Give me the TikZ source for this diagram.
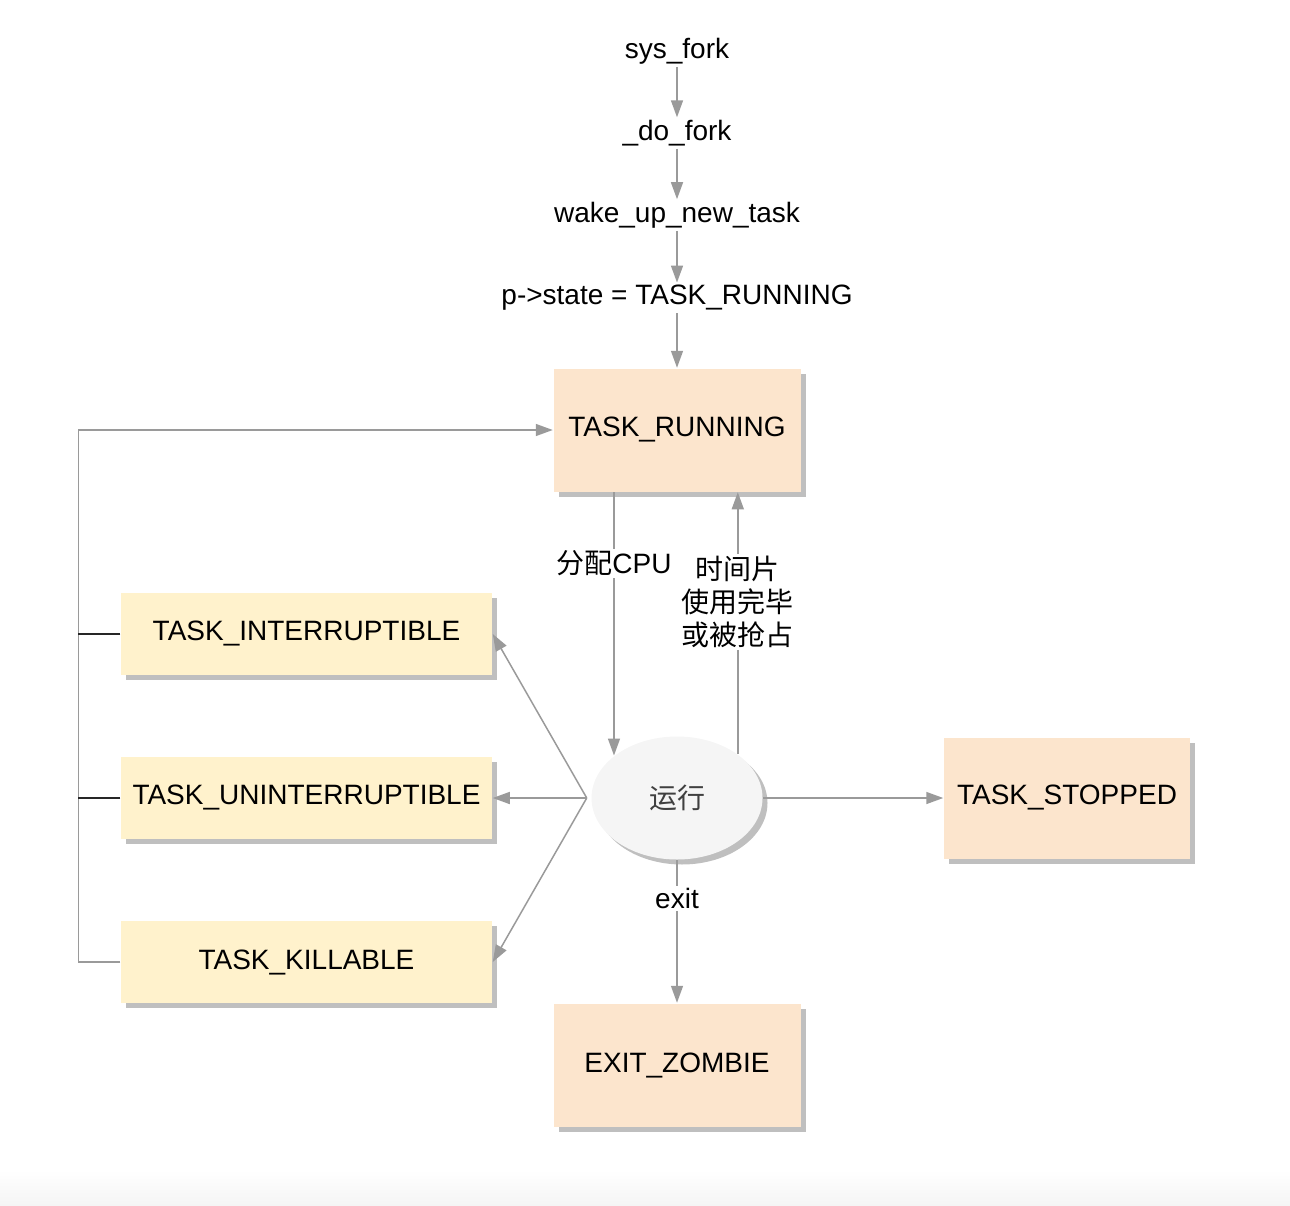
\documentclass[tikz,border=0pt]{standalone}
\usepackage{fontspec}
\setmainfont{Liberation Sans}
\newfontfamily\cjk{Noto Sans CJK SC}
\usetikzlibrary{arrows.meta,positioning,shapes.geometric,shadows}
\definecolor{peach}{HTML}{FCE5CD}
\definecolor{cream}{HTML}{FFF2CC}
\definecolor{runfill}{HTML}{F5F5F5}
\definecolor{wire}{HTML}{9A9A9A}
\tikzstyle{call}=[inner sep=2pt,font=\fontsize{28}{33}\selectfont]
\tikzstyle{state}=[rectangle,fill=peach,minimum width=247pt,minimum height=123pt,
font=\fontsize{28}{33}\selectfont,drop shadow={shadow xshift=5pt,shadow yshift=-5pt,fill=black!50,opacity=0.5}]
\tikzstyle{wait}=[rectangle,fill=cream,minimum width=371pt,minimum height=82pt,
font=\fontsize{28}{33}\selectfont,drop shadow={shadow xshift=5pt,shadow yshift=-5pt,fill=black!50,opacity=0.5}]
\tikzstyle{cpu}=[ellipse,fill=runfill,minimum width=171pt,minimum height=123pt,
font=\fontsize{28}{33}\cjk,text=black!75,drop shadow={shadow xshift=5pt,shadow yshift=-5pt,fill=black!50,opacity=0.5}]
\tikzstyle{lbl}=[fill=white,text=black,inner sep=2pt,font=\fontsize{28}{33}\selectfont,align=center]

\begin{document}
\begin{tikzpicture}[x=1pt,y=-1pt,>={Triangle[length=17pt,width=12pt]},line width=1.5pt]
            \useasboundingbox (0,0) rectangle (1290,1206);
            \shade[top color=white,bottom color=black!4,draw=none] (0,1170) rectangle (1290,1206);

            % STATES

            \node[state] (running) at (677,430) {TASK\_RUNNING};
            \node[cpu, below of=running, node distance=368pt] (run) {运行};
            \node[state, right of=run, node distance=390pt, minimum width=246pt, minimum height=121pt] (stopped) {TASK\_STOPPED};
            \node[state, below of=run, node distance=267pt] (zombie) {EXIT\_ZOMBIE};
            \node[wait, left of=run, node distance=370.5pt] (uninterr) {TASK\_UNINTERRUPTIBLE};
            \node[wait, above of=uninterr, node distance=164pt] (interr) {TASK\_INTERRUPTIBLE};
            \node[wait, below of=uninterr, node distance=164pt] (killable) {TASK\_KILLABLE};

            % FORK PART

            \node[call, above of=running, node distance=132pt] (pstate) {p->state = TASK\_RUNNING};
            \node[call, above of=pstate, node distance=83pt] (wake) {wake\_up\_new\_task};
            \node[call, above of=wake, node distance=82pt] (dofork) {\_do\_fork};
            \node[call, above of=dofork, node distance=82pt] (sysfork) {sys\_fork};

            \draw[->,wire] (sysfork) -- (dofork);
            \draw[->,wire] (dofork) -- (wake);
            \draw[->,wire] (wake) -- (pstate);
            \draw[->,wire] (pstate) -- (running);

            % RUNNING PART

            \draw[->,wire] (running.south -| run.146) -- node[lbl,pos=0.27] {{\cjk 分配}CPU} (run.146);
            \draw[->,wire] (run.36) -- node[lbl,pos=0.58] {\cjk 时间片\\\cjk 使用完毕\\\cjk 或被抢占} (run.36 |- running.south);
            \draw[->,wire] (run) -- (stopped);
            \draw[->,wire] (run) -- node[lbl,pos=0.27] {exit} (zombie);

            % SLEEP PART

            \coordinate (fan) at ([xshift=-4pt]run.west);
            \draw[->,wire] (fan) -- (interr.east);
            \draw[->,wire] (fan) -- (uninterr.east);
            \draw[->,wire] (fan) -- (killable.east);

            \draw[->,wire] (killable.west) -- ++(-42,0) |- (running.west);
            \draw[black!85] (interr.west) -- ++(-42,0);
            \draw[black!85] (uninterr.west) -- ++(-42,0);

        \end{tikzpicture}
\end{document}
